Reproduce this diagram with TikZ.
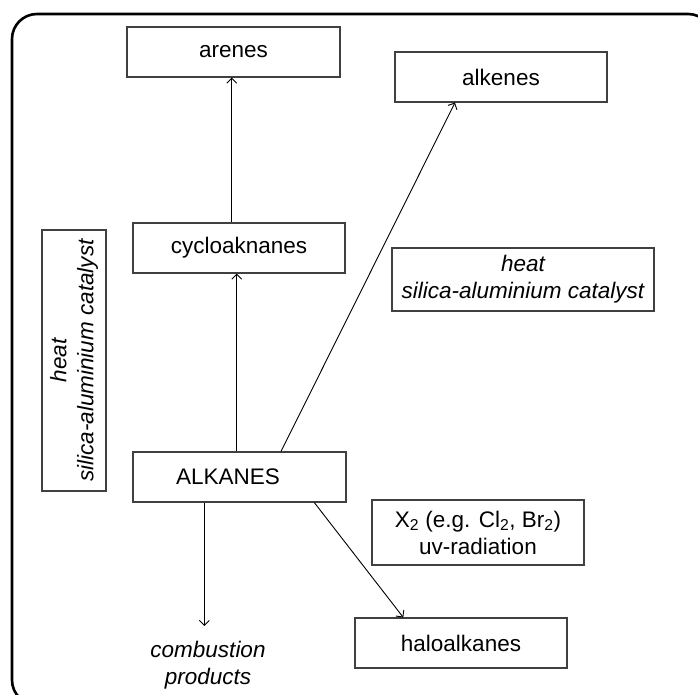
\documentclass[tikz,border=0pt]{standalone}
\usepackage{fontspec}
\setmainfont{Liberation Sans}
\usetikzlibrary{arrows.meta}
\begin{document}
\begin{tikzpicture}[x=1pt,y=-1pt,
  txt/.style={font=\fontsize{22.5}{27}\selectfont},
  itxt/.style={font=\fontsize{22.5}{27}\selectfont\itshape},
  box/.style={txt, draw=black!75, line width=1.1pt, minimum height=50pt,
    minimum width=212pt, inner sep=0pt, align=center},
  lbl/.style={txt, inner sep=0pt, align=center},
  arr/.style={line width=0.9pt, -{Straight Barb[length=5pt,width=10pt]}}]
\useasboundingbox (0,0) rectangle (698,695);
% outer frame
\draw[line width=2.6pt, rounded corners=25pt] (12,14) rectangle (713,705);

% compounds
\node[box, minimum width=213pt] (are) at (233.5,52) {arenes};
\node[box] (alke) at (501,77) {alkenes};
\node[box] (cyc) at (239,248) {cycloaknanes};
\node[box, minimum width=213pt] (alk) at (239.5,477) {\hspace*{-23pt}ALKANES};
\node[box] (halo) at (461,643) {haloalkanes};
\node[lbl, itxt] (comb) at (208,665) {combustion\\products};

% reaction conditions
\node[box, itxt, minimum width=262pt, minimum height=63pt]
  (cat) at (523,279.5) {heat\\silica-aluminium catalyst};
\node[box, itxt, rotate=90, minimum width=261pt, minimum height=64pt]
  (lcat) at (74,360.5) {heat\\silica-aluminium catalyst};
\node[box, minimum height=65pt] (hal) at (478,532.5)
  {X\textsubscript{2} (e.g. Cl\textsubscript{2}, Br\textsubscript{2})\\uv-radiation};

% reactions
\coordinate (combtip) at (204.3,626);
\draw[arr] ([xshift=-7.3pt]cyc.north) -- ([xshift=-1.8pt]are.south);
\draw[arr] ([xshift=-2.8pt]alk.north) -- ([xshift=-2.3pt]cyc.south);
\draw[arr] ([xshift=41.5pt]alk.north) -- ([xshift=-46pt]alke.south);
\draw[arr] ([xshift=-35.2pt]alk.south) -- (combtip);
\draw[arr] ([xshift=74.8pt]alk.south) -- ([xshift=-57.7pt]halo.north);
\end{tikzpicture}
\end{document}
